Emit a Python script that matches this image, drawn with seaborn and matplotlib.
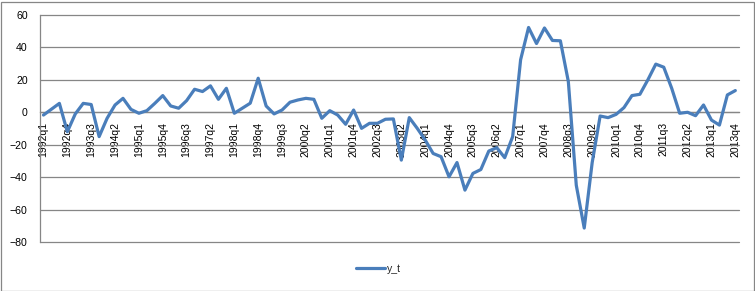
import matplotlib
matplotlib.use("Agg")
import matplotlib.pyplot as plt
import seaborn as sns
import pandas as pd
from matplotlib.patches import Rectangle
from matplotlib.ticker import FixedLocator

# ---- data ----
quarters = [f"{y}q{q}" for y in range(1992, 2014) for q in range(1, 5)]
y_t = [
    -1.7, 1.9, 5.5, -12.0, -1.0, 5.5, 4.8, -15.0,
    -3.7, 4.5, 8.6, 1.8, -0.6, 1.0, 5.5, 10.3,
    3.9, 2.5, 7.2, 14.2, 12.8, 16.3, 8.0, 14.8,
    -0.6, 2.5, 5.6, 21.0, 3.9, -1.0, 1.4, 6.2,
    7.6, 8.6, 8.0, -3.7, 1.0, -1.7, -7.4, 1.4,
    -9.9, -6.8, -6.8, -4.3, -4.1, -29.5, -3.3, -9.9,
    -17.1, -25.4, -27.4, -39.8, -31.0, -48.0, -37.7, -35.3,
    -23.9, -21.8, -28.0, -15.0, 32.4, 52.3, 42.4, 52.0,
    44.3, 44.1, 19.0, -45.0, -71.4, -31.0, -2.3, -3.3,
    -1.3, 2.9, 10.3, 11.1, 20.0, 29.7, 27.8, 14.8,
    -0.6, 0.0, -2.1, 4.5, -4.8, -7.9, 10.7, 13.4,
]
tick_labels = [
    "1992q1", "1992q4", "1993q3", "1994q2", "1995q1", "1995q4", "1996q3",
    "1997q2", "1998q1", "1998q4", "1999q3", "2000q2", "2001q1", "2001q4",
    "2002q3", "2003q2", "2004q1", "2004q4", "2005q3", "2006q2", "2007q1",
    "2007q4", "2008q3", "2009q2", "2010q1", "2010q4", "2011q3", "2012q2",
    "2013q1", "2013q4",
]
y_ticks = [-80, -60, -40, -20, 0, 20, 40, 60]

df = pd.DataFrame({"quarter": quarters, "y_t": y_t})
df["pos"] = range(len(df))
tick_pos = [quarters.index(t) for t in tick_labels]

# ---- style ----
sns.set_style("white")
plt.rcParams["font.family"] = ["Liberation Sans", "DejaVu Sans"]

W, H = 755, 291
fig = plt.figure(figsize=(W / 100, H / 100), dpi=100)
left, right, top, bottom = 39.5, 739.3, 15.0, 242.0
ax = fig.add_axes([left / W, (H - bottom) / H, (right - left) / W, (bottom - top) / H])

grid_c = "#868686"
line_c = "#4A7EBB"

sns.lineplot(data=df, x="pos", y="y_t", ax=ax, color=line_c, linewidth=2.3,
             label="y_t", legend=False)
for ln in ax.lines:
    ln.set_solid_joinstyle("round")
    ln.set_solid_capstyle("round")
    ln.set_zorder(3)

ax.set_xlim(-0.5, len(df) - 0.5)
ax.set_ylim(-80, 60)
ax.set_xlabel("")
ax.set_ylabel("")

# gridlines
ax.set_yticks(y_ticks)
ax.yaxis.grid(True, color=grid_c, linewidth=0.9)
ax.xaxis.grid(False)
ax.set_axisbelow(True)
for gl in ax.get_ygridlines():
    gl.set_clip_on(False)

# spines
for s in ["top", "right"]:
    ax.spines[s].set_visible(False)
ax.spines["left"].set_color(grid_c)
ax.spines["left"].set_linewidth(0.9)
ax.spines["bottom"].set_position(("data", 0))
ax.spines["bottom"].set_color(grid_c)
ax.spines["bottom"].set_linewidth(0.9)

# x ticks
ax.set_xticks(tick_pos)
ax.set_xticklabels(tick_labels, rotation=90, fontsize=7.5, va="top", ha="center")
ax.xaxis.set_minor_locator(FixedLocator([k - 0.5 for k in range(len(df) + 1)]))
ax.tick_params(axis="x", which="major", length=0, pad=7.0, labelcolor="black")
ax.tick_params(axis="x", which="minor", length=3.5, width=0.9, color=grid_c, direction="out")

# y ticks
ax.tick_params(axis="y", which="major", length=3.5, width=0.9, color=grid_c,
               direction="out", labelsize=7.6, pad=5.0, labelcolor="black")

# legend
h, l = ax.get_legend_handles_labels()
fig.legend(h, l, loc="center", bbox_to_anchor=(378.5 / W, (H - 269) / H),
           frameon=False, fontsize=7.6, handlelength=2.7, handletextpad=0.15)

# chart border
fig.patches.append(Rectangle((0.5 / W, 0.5 / H), (W - 2) / W, (H - 2) / H,
                             transform=fig.transFigure, fill=False,
                             edgecolor=grid_c, linewidth=0.9))

fig.savefig("out.png", dpi=100)
